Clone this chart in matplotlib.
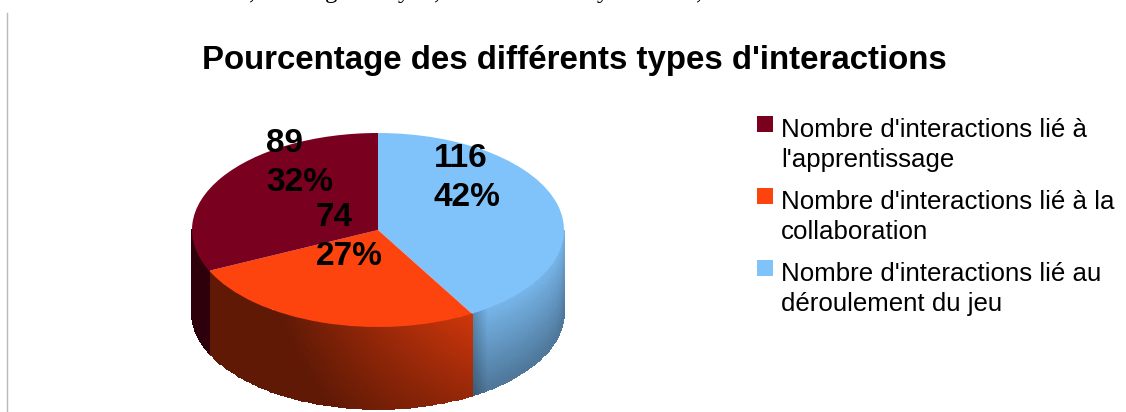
import numpy as np
import matplotlib
matplotlib.use("Agg")
import matplotlib.pyplot as plt
from matplotlib.colors import to_rgb
from matplotlib.patches import Rectangle

title = "Pourcentage des différents types d'interactions"
values = [116, 74, 89]
percents = ["42%", "27%", "32%"]
colors = ["#80c3fb", "#fd430e", "#7a0020"]
legend_labels = ["Nombre d'interactions lié à\nl'apprentissage",
                 "Nombre d'interactions lié à la\ncollaboration",
                 "Nombre d'interactions lié au\ndéroulement du jeu"]
legend_colors = ["#7a0020", "#fd430e", "#80c3fb"]
# bottoms of the text line cut off at the top of the page
cut_chars = [",", "g", "y", ",", "y", ","]
cut_x = [252, 331, 404, 437, 603, 699]

W, H = 1126, 412
cx, cy, rx, ry = 378, 230, 186, 97
depth = 82 / ry

plt.rcParams['font.family'] = ['Liberation Sans', 'DejaVu Sans']
fig = plt.figure(figsize=(W / 100, H / 100), dpi=100, facecolor="white")
ax = fig.add_axes([0, 0, 1, 1])

angles = np.cumsum([0] + values) / sum(values) * 2 * np.pi


def wall_shade(i, a, z):
    # a = clockwise angle from 12 o'clock, z = 0 top .. 1 bottom
    if i == 0:
        edge = np.clip((angles[1] - a) / 0.10, 0, 1)
        return (0.93 - 0.32 * z) * (0.75 + 0.25 * edge)
    if i == 1:
        u = (a - angles[1]) / (angles[2] - angles[1])
        base = np.where(u < 0.65, 0.82 - 0.68 * u, 0.38)
        return np.clip(base - 0.22 * z * (1 - u), 0.38, 1)
    return np.full_like(a, 0.38)


n_z = 24
for i in range(3):
    a0, a1 = angles[i], angles[i + 1]
    lo, hi = max(a0, np.pi / 2), min(a1, 3 * np.pi / 2)
    if lo >= hi:
        continue
    a = np.linspace(lo, hi, 80)
    z = np.linspace(0, 1, n_z)
    A, Z = np.meshgrid(a, z)
    X = np.sin(A)
    Y = np.cos(A) - Z * depth
    Ac = (A[:-1, :-1] + A[1:, 1:]) / 2
    Zc = (Z[:-1, :-1] + Z[1:, 1:]) / 2
    rgb = np.array(to_rgb(colors[i]))
    C = np.clip(wall_shade(i, Ac, Zc)[..., None] * rgb, 0, 1)
    ax.pcolormesh(X, Y, C, shading="flat", edgecolors="face", linewidth=0.2, zorder=1)

ax.pie(values, colors=colors, startangle=90, counterclock=False, radius=1,
       wedgeprops={"linewidth": 0}, frame=True)
for w in ax.patches:
    w.set_zorder(2)

ax.set_aspect("auto")
ax.set_xlim(-cx / rx, (W - cx) / rx)
ax.set_ylim((cy - H) / ry, cy / ry)
ax.axis("off")


def px(x, y):
    return x / W, 1 - y / H


label_pos = [(434, 178), (316, 237), (266, 163)]
for v, p, pos in zip(values, percents, label_pos):
    fig.text(*px(*pos), f"{v}\n{p}", fontsize=24, fontweight="bold", ha="left", va="center",
             linespacing=1.31, color="black", zorder=5)

fig.text(*px(574, 60), title, fontsize=23.75, fontweight="bold", ha="center", va="center")

legend_y = [124, 196, 268]
for lab, col, y in zip(legend_labels, legend_colors, legend_y):
    fig.add_artist(Rectangle(px(757, y + 8), 16 / W, 16 / H, transform=fig.transFigure,
                             facecolor=col, edgecolor="none"))
    fig.text(*px(781, y + 21), lab, fontsize=18.6, ha="left", va="center", linespacing=1.35)

for ch, x in zip(cut_chars, cut_x):
    fig.text(*px(x, -2), ch, fontsize=18, family="Liberation Serif", ha="center", va="baseline")

# page rule on the left
fig.add_artist(plt.Line2D([7 / W, 7 / W], [0, 1 - 13 / H], color="#b9b9b9", linewidth=1))

fig.savefig("out.png", dpi=100)
